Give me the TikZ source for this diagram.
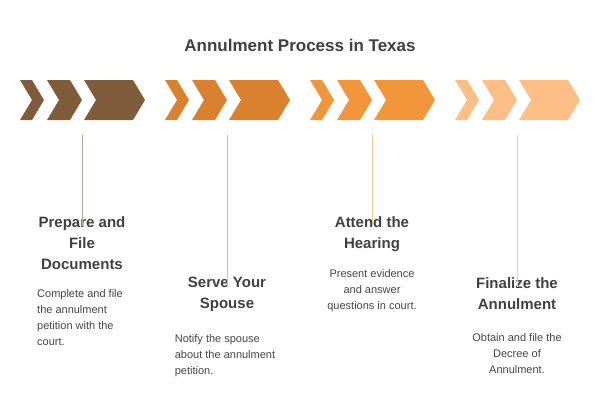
\documentclass[tikz,border=0pt]{standalone}
\usepackage{fontspec}
\setmainfont{Liberation Sans}
\definecolor{stepA}{HTML}{7F5C3A}
\definecolor{stepB}{HTML}{D9812F}
\definecolor{stepC}{HTML}{F3953A}
\definecolor{stepD}{HTML}{FDBF85}
\definecolor{titlegray}{HTML}{404040}
\definecolor{bodygray}{HTML}{444444}
\begin{document}
\begin{tikzpicture}[x=1pt, y=-1pt,
  heading/.style={font=\bfseries\fontsize{15}{21}\selectfont, text=titlegray, align=center, anchor=north, inner sep=0},
  body/.style={font=\fontsize{11}{16}\selectfont, text=bodygray, anchor=north, inner sep=0},
  stem/.style={line width=0.8pt}]
  \useasboundingbox (0,0) rectangle (600,400);
  \node[font=\bfseries\fontsize{17}{20}\selectfont, text=titlegray] (title) at (300,45) {Annulment Process in Texas};
  % chevrons, three per step
  \foreach \c [count=\i from 0] in {stepA,stepB,stepC,stepD} {
    \foreach \a/\w in {0/12, 27/23, 64/49} {
      \fill[\c] (20+145*\i+\a,80) -- ++(\w,0) -- ++(12,20) -- ++(-12,20) -- ++(-\w,0) -- ++(12,-20) -- cycle;
    }
    \coordinate (c\i) at (82+145*\i,135);
  }
  % step texts
  \node[heading] (t0) at (82,216) {Prepare and\\File\\Documents};
  \node[body, align=left] (b0) at (80,289) {Complete and file\\the annulment\\petition with the\\court.};
  \node[heading] (t1) at (227,277) {Serve Your\\Spouse};
  \node[body, align=left] (b1) at (225,334) {Notify the spouse\\about the annulment\\petition.};
  \node[heading] (t2) at (372,216) {Attend the\\Hearing};
  \node[body, align=center] (b2) at (372,269) {Present evidence\\and answer\\questions in court.};
  \node[heading] (t3) at (517,277) {Finalize the\\Annulment};
  \node[body, align=center] (b3) at (517,333) {Obtain and file the\\Decree of\\Annulment.};
  % stems
  \draw[stem, stepA!55] (c0) -- ([yshift=-10pt]t0.north);
  \draw[stem, stepB!55] (c1) -- ([yshift=-10pt]t1.north);
  \draw[stem, stepC!55] (c2) -- ([yshift=-10pt]t2.north);
  \draw[stem, stepD!80] (c3) -- ([yshift=-10pt]t3.north);
\end{tikzpicture}
\end{document}
